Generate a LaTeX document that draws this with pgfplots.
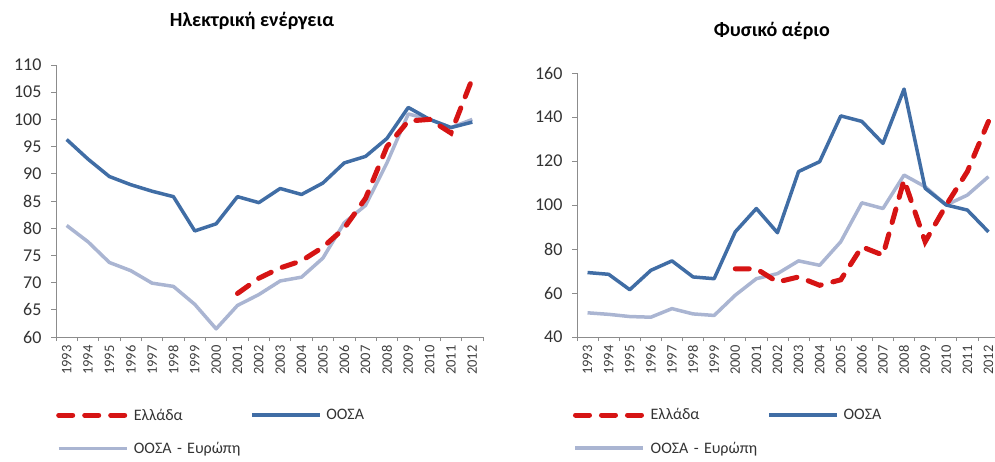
\documentclass[border=0pt]{standalone}
\usepackage{fontspec}
\setmainfont{Carlito}
\usepackage{pgfplots}
\pgfplotsset{compat=1.18}
\definecolor{oecd}{RGB}{64,109,165}
\definecolor{oecdeu}{RGB}{170,181,210}
\definecolor{gr}{RGB}{214,20,20}
\pgfplotsset{
  panel/.style={
    scale only axis,
    anchor=south west,
    xmin=-0.5, xmax=19.5,
    axis x line*=bottom, axis y line*=left,
    axis line style={color=black!45, line width=0.8pt},
    xtick={0,...,19},
    xticklabels={1993,1994,1995,1996,1997,1998,1999,2000,2001,2002,2003,2004,2005,2006,2007,2008,2009,2010,2011,2012},
    major x tick style={draw=none},
    minor xtick={-0.5,0.5,...,19.5},
    minor x tick style={color=black!45, line width=0.8pt},
    minor tick length=4pt,
    major tick length=5pt,
    ytick style={color=black!45, line width=0.8pt},
    tick align=outside,
    /pgf/number format/assume math mode=true,
    xticklabel style={rotate=90, anchor=east, font=\fontsize{14.5}{14.5}\selectfont, text=black!75},
    yticklabel style={font=\fontsize{18}{18}\selectfont, text=black!80, xshift=-6pt},
    legend columns=2,
    legend cell align=left,
    legend style={draw=none, fill=none, inner sep=0pt, row sep=11pt, column sep=0pt,
      font=\fontsize{16}{16}\selectfont, text=black!80,
      nodes={inner sep=4.7pt}},
    legend image code/.code={\draw[##1] (0pt,0pt) -- (68pt,0pt);},
    title style={font=\bfseries\fontsize{20}{20}\selectfont, anchor=center},
  },
  grline/.style={color=gr, line width=5pt, line cap=round, dash pattern=on 14pt off 12pt},
  oecdline/.style={color=oecd, line width=3.5pt, line join=round},
  eurline/.style={color=oecdeu, line width=3.5pt, line join=round},
}
\begin{document}
\begin{tikzpicture}
\useasboundingbox (0pt,0pt) rectangle (995pt,461pt);
% Left panel: electricity
\begin{axis}[panel,
  at={(56pt,124pt)}, width=427pt, height=272pt,
  ymin=60, ymax=110, ytick={60,65,...,110},
  title={Ηλεκτρική ενέργεια},
  title style={at={(0.459,1.14)}},
  legend style={at={(0,-0.246)}, anchor=north west},
]
\addlegendimage{grline}
\addlegendentry[text width=111.5pt]{Ελλάδα}
\addlegendimage{oecdline}
\addlegendentry{ΟΟΣΑ}
\addlegendimage{eurline}
\addlegendentry[text width=111.5pt]{ΟΟΣΑ - Ευρώπη}
\addplot[eurline, forget plot] coordinates {
(0,80.5) (1,77.5) (2,73.7) (3,72.2) (4,69.9) (5,69.3) (6,66.0) (7,61.5) (8,65.8) (9,67.8)
(10,70.3) (11,71.0) (12,74.5) (13,81.0) (14,84.2) (15,92.0) (16,101.0) (17,100.0) (18,98.5) (19,100.0)};
\addplot[oecdline, forget plot] coordinates {
(0,96.3) (1,92.7) (2,89.5) (3,88.0) (4,86.8) (5,85.8) (6,79.5) (7,80.8) (8,85.8) (9,84.7)
(10,87.3) (11,86.2) (12,88.3) (13,92.0) (14,93.2) (15,96.5) (16,102.2) (17,100.0) (18,98.5) (19,99.5)};
\addplot[grline, forget plot] coordinates {
(8,68.0) (9,70.8) (10,72.7) (11,74.0) (12,76.5) (13,80.0) (14,85.5) (15,95.0) (16,99.7) (17,100.0) (18,97.5) (19,107.5)};
\end{axis}
% Right panel: natural gas
\begin{axis}[panel,
  at={(577pt,124pt)}, width=422pt, height=264pt,
  ymin=40, ymax=160, ytick={40,60,...,160},
  title={Φυσικό αέριο},
  title style={at={(0.462,1.135)}},
  legend style={at={(-0.01,-0.253)}, anchor=north west},
]
\addlegendimage{grline}
\addlegendentry[text width=112pt]{Ελλάδα}
\addlegendimage{oecdline}
\addlegendentry{ΟΟΣΑ}
\addlegendimage{eurline}
\addlegendentry[text width=112pt]{ΟΟΣΑ - Ευρώπη}
\addplot[eurline, forget plot] coordinates {
(0,51.0) (1,50.3) (2,49.3) (3,49.0) (4,52.9) (5,50.5) (6,49.8) (7,59.0) (8,66.5) (9,68.8)
(10,74.6) (11,72.6) (12,83.3) (13,101.0) (14,98.4) (15,113.6) (16,108.3) (17,100.0) (18,104.5) (19,112.9)};
\addplot[oecdline, forget plot] coordinates {
(0,69.3) (1,68.5) (2,61.5) (3,70.3) (4,74.6) (5,67.3) (6,66.5) (7,87.8) (8,98.4) (9,87.4)
(10,115.2) (11,119.7) (12,140.5) (13,138.0) (14,128.0) (15,152.7) (16,107.6) (17,100.0) (18,97.7) (19,87.8)};
\addplot[grline, forget plot] coordinates {
(7,71.0) (8,71.0) (9,65.0) (10,67.3) (11,63.5) (12,66.0) (13,81.0) (14,77.2) (15,111.4) (16,83.3) (17,100.0) (18,115.2) (19,138.0)};
\end{axis}
\end{tikzpicture}
\end{document}
